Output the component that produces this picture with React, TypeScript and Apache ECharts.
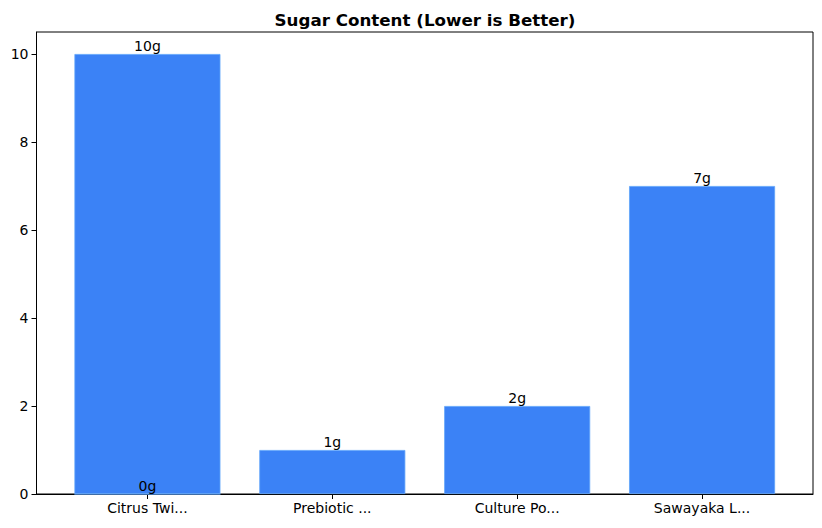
import React, { useEffect, useRef } from 'react';
import * as echarts from 'echarts';

// one entry per bar; the two "Citrus Twi..." rows share the same slot
const barNames = ['Citrus Twi...', 'Citrus Twi...', 'Prebiotic ...', 'Culture Po...', 'Sawayaka L...'];
const sugarGrams = [10, 0, 1, 2, 7];
const yTicks = [0, 2, 4, 6, 8, 10];

const FONT = 'DejaVu Sans';

const App: React.FC = () => {
  const chartRef = useRef<HTMLDivElement>(null);

  useEffect(() => {
    if (!chartRef.current) return;
    const chart = echarts.init(chartRef.current, undefined, { renderer: 'svg' });

    const slots = Array.from(new Set(barNames));
    const slotIndex = slots.map((_, i) => i);
    const data = barNames.map((n, i) => [slots.indexOf(n), sugarGrams[i]]);

    chart.setOption({
      animation: false,
      title: {
        text: 'Sugar Content (Lower is Better)',
        left: 420,
        top: 6,
        textAlign: 'center',
        textStyle: { fontFamily: FONT, fontSize: 16.7, fontWeight: 'bold', color: '#000' }
      },
      grid: {
        left: 36.5,
        right: 9,
        top: 32,
        bottom: 34,
        show: true,
        borderColor: '#000',
        borderWidth: 1,
        backgroundColor: '#fff'
      },
      xAxis: {
        type: 'value',
        min: -0.6,
        max: slots.length - 0.4,
        splitLine: { show: false },
        axisLine: { show: true, onZero: false, lineStyle: { color: '#000', width: 1 } },
        axisTick: { show: true, customValues: slotIndex, length: 5, lineStyle: { color: '#000' } },
        axisLabel: {
          customValues: slotIndex,
          formatter: (v: number) => slots[Math.round(v)] ?? '',
          fontFamily: FONT,
          fontSize: 14,
          color: '#000',
          margin: 7
        }
      },
      yAxis: {
        type: 'value',
        min: 0,
        max: 10.5,
        splitLine: { show: false },
        axisLine: { show: true, onZero: false, lineStyle: { color: '#000', width: 1 } },
        axisTick: { show: true, customValues: yTicks, length: 5, lineStyle: { color: '#000' } },
        axisLabel: {
          customValues: yTicks,
          fontFamily: FONT,
          fontSize: 14,
          color: '#000',
          margin: 8
        }
      },
      series: [
        {
          type: 'bar',
          data,
          barWidth: 146,
          itemStyle: { color: '#3b82f6', borderColor: '#60a5fa', borderWidth: 0.8 },
          label: {
            show: true,
            position: 'top',
            distance: 1,
            formatter: (p: any) => `${p.value[1]}g`,
            fontFamily: FONT,
            fontSize: 14,
            color: '#000'
          }
        }
      ]
    });

    return () => {
      chart.dispose();
    };
  }, []);

  return (
    <div
      ref={chartRef}
      style={{ position: 'fixed', left: 0, top: 0, width: '822px', height: '528px', background: '#fff' }}
    />
  );
};

export default App;
